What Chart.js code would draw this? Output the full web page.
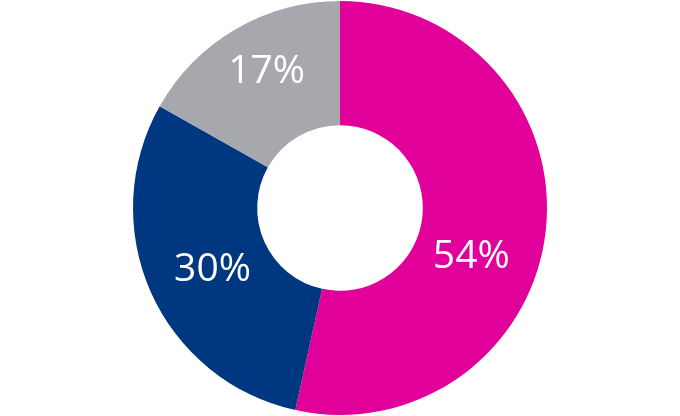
<!DOCTYPE html>
<html>
<head>
<meta charset="utf-8">
<script src="https://cdn.jsdelivr.net/npm/chart.js@4"></script>
<style>
  html, body { margin: 0; padding: 0; background: #fff; }
  #wrap { width: 680px; height: 416px; }
</style>
</head>
<body>
<div id="wrap"><canvas id="shareChart"></canvas></div>
<script>
// Chart data
const categories = ['A', 'B', 'C'];
const shares = [54, 30, 17];
const sliceColors = ['#e2009a', '#003781', '#a7a8ae'];

// Draw the percentage text inside each slice
const sliceLabels = {
    id: 'sliceLabels',
    afterDatasetsDraw(chart, args, opts) {
        const ctx = chart.ctx;
        const meta = chart.getDatasetMeta(0);
        ctx.save();
        ctx.fillStyle = '#fff';
        ctx.font = '39px "Open Sans", sans-serif';
        ctx.textAlign = 'center';
        ctx.textBaseline = 'middle';
        meta.data.forEach((arc, i) => {
            const p = arc.getProps(['x', 'y', 'startAngle', 'endAngle', 'innerRadius', 'outerRadius'], true);
            const shift = (opts.angleShift[i] || 0) * Math.PI / 180;
            const mid = (p.startAngle + p.endAngle) / 2 + shift;
            const r = (p.innerRadius + p.outerRadius) / 2 + (opts.radiusShift[i] || 0);
            ctx.fillText(shares[i] + '%', p.x + Math.cos(mid) * r, p.y + Math.sin(mid) * r);
        });
        ctx.restore();
    }
};

const ctx = document.getElementById('shareChart').getContext('2d');
new Chart(ctx, {
    type: 'doughnut',
    data: {
        labels: categories,
        datasets: [{
            data: shares,
            backgroundColor: sliceColors,
            borderWidth: 0
        }]
    },
    options: {
        responsive: true,
        maintainAspectRatio: false,
        animation: false,
        cutout: '40%',
        layout: { padding: 1 },
        plugins: {
            legend: { display: false },
            tooltip: { enabled: false },
            sliceLabels: {
                angleShift: [14, -2, 2],
                radiusShift: [-5, -3, 10]
            }
        }
    },
    plugins: [sliceLabels]
});
</script>
</body>
</html>
